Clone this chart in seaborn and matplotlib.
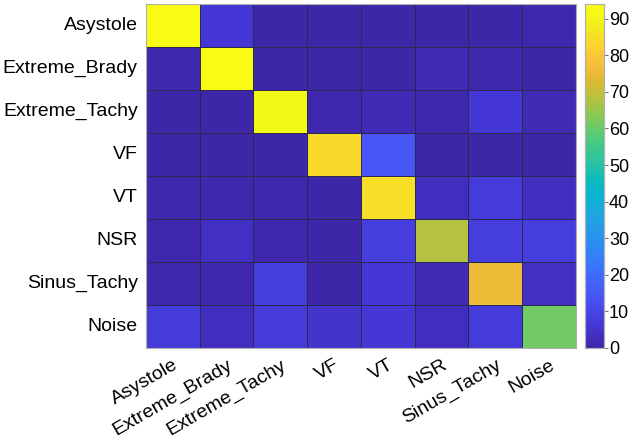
import numpy as np
import pandas as pd
import matplotlib
matplotlib.use("Agg")
import matplotlib.pyplot as plt
import seaborn as sns
from matplotlib.colors import LinearSegmentedColormap

classes = ["Asystole", "Extreme_Brady", "Extreme_Tachy", "VF", "VT",
           "NSR", "Sinus_Tachy", "Noise"]

# row = true class, column = predicted class (percent)
asystole = [94, 6, 0, 0, 0, 0, 0, 1]
extreme_brady = [1, 93, 0, 0, 0, 2, 1, 0]
extreme_tachy = [0, 0, 91, 1, 2, 1, 6, 2]
vf = [0, 0, 0, 84, 14, 0, 0, 0]
vt = [1, 1, 1, 0, 85, 3, 7, 3]
nsr = [1, 4, 1, 0, 8, 68, 8, 8]
sinus_tachy = [1, 1, 8, 0, 6, 2, 76, 4]
noise = [7, 3, 7, 5, 6, 3, 7, 61]

cm = pd.DataFrame([asystole, extreme_brady, extreme_tachy, vf, vt, nsr,
                   sinus_tachy, noise], index=classes, columns=classes)

# parula-like colormap (index out of 63, rgb)
parula_pts = [
    (0, (0.2422, 0.1504, 0.6603)), (4, (0.2706, 0.2147, 0.8364)),
    (9, (0.2810, 0.3228, 0.9579)), (14, (0.2440, 0.4358, 0.9988)),
    (18, (0.1786, 0.5289, 0.9682)), (21, (0.1540, 0.5902, 0.9218)),
    (24, (0.1248, 0.6459, 0.8883)), (28, (0.0297, 0.7082, 0.8163)),
    (31, (0.0433, 0.7394, 0.7347)), (34, (0.1717, 0.7677, 0.6387)),
    (37, (0.2470, 0.7887, 0.5334)), (40, (0.3909, 0.7958, 0.4259)),
    (43, (0.5616, 0.7834, 0.3247)), (46, (0.7242, 0.7549, 0.2410)),
    (49, (0.8651, 0.7265, 0.1885)), (52, (0.9728, 0.7444, 0.2366)),
    (55, (0.9883, 0.8155, 0.1868)), (59, (0.9551, 0.9218, 0.1211)),
    (61, (0.9504, 0.9779, 0.0899)), (63, (0.9769, 0.9839, 0.0805)),
]
parula = LinearSegmentedColormap.from_list(
    "parula", [(i / 63, c) for i, c in parula_pts])

plt.rcParams["font.family"] = ["Liberation Sans", "DejaVu Sans"]

fig = plt.figure(figsize=(6.33, 4.42), dpi=100)
ax = fig.add_axes([0.2307, 0.2127, 0.679, 0.778])
cax = fig.add_axes([0.9245, 0.2127, 0.029, 0.778])

sns.heatmap(cm, ax=ax, cbar_ax=cax, cmap=parula, vmin=0, vmax=cm.values.max(),
            linewidths=0.6, linecolor="#2a2a50", square=False)

ax.tick_params(axis="both", length=0, labelsize=14, pad=6)
ax.set_yticklabels(classes, rotation=0)
ax.set_xticklabels(classes, rotation=30, ha="right", rotation_mode="anchor")
for s in ax.spines.values():
    s.set_visible(True)
    s.set_color("#b0b0b0")
    s.set_linewidth(0.8)

cax.set_yticks(range(0, 100, 10))
cax.tick_params(labelsize=13, length=3, width=0.6, pad=1, color="#555555")
cax.set_frame_on(True)
for s in cax.spines.values():
    s.set_visible(True)
    s.set_color("#b0b0b0")
    s.set_linewidth(0.8)

fig.savefig("out.png", dpi=100)
